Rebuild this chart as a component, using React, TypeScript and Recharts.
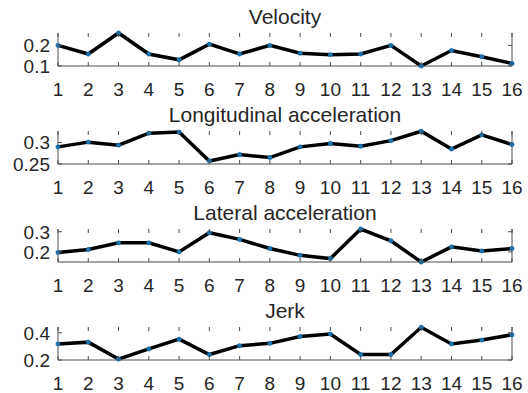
import React from 'react';
import { LineChart, Line, XAxis, YAxis } from 'recharts';

const steps = [1, 2, 3, 4, 5, 6, 7, 8, 9, 10, 11, 12, 13, 14, 15, 16];
const velocity = [0.2, 0.158, 0.26, 0.158, 0.13, 0.206, 0.158, 0.2, 0.162, 0.155, 0.158, 0.2, 0.1, 0.175, 0.145, 0.112];
const longitudinal = [0.29, 0.301, 0.294, 0.322, 0.3245, 0.257, 0.272, 0.265, 0.29, 0.298, 0.2915, 0.3045, 0.3265, 0.285, 0.318, 0.2955];
const lateral = [0.197, 0.212, 0.245, 0.245, 0.2, 0.295, 0.262, 0.217, 0.183, 0.167, 0.3135, 0.255, 0.15, 0.225, 0.205, 0.217];
const jerk = [0.318, 0.331, 0.207, 0.281, 0.353, 0.24, 0.305, 0.322, 0.372, 0.39, 0.24, 0.24, 0.44, 0.318, 0.346, 0.385];

const titles = ['Velocity', 'Longitudinal acceleration', 'Lateral acceleration', 'Jerk'];
const yTicks = [[0.1, 0.2], [0.25, 0.3], [0.2, 0.3], [0.2, 0.4]];
const yDomains = [[0.1, 0.26], [0.25, 0.327], [0.15, 0.3135], [0.2, 0.442]];
const series = [velocity, longitudinal, lateral, jerk];

const W = 528;
const H = 98;
const PLOT_TOP = 33;
const PLOT_H = 33;
const PLOT_LEFT = 58;
const PLOT_RIGHT = 512;
const PLOT_W = PLOT_RIGHT - PLOT_LEFT;
const AXIS_COLOR = '#4d4d4d';
const TEXT_COLOR = '#262626';
const FONT = '"Liberation Sans", Arial, sans-serif';

const XTick = (props: any) => {
  const { x, y, payload } = props;
  return (
    <g>
      <line x1={x} x2={x} y1={y} y2={y - 4} stroke={AXIS_COLOR} strokeWidth={1} />
      <line x1={x} x2={x} y1={y - PLOT_H} y2={y - PLOT_H + 4} stroke={AXIS_COLOR} strokeWidth={1} />
      <text x={x} y={y + 29.5} textAnchor="middle" fontSize={19} fontFamily={FONT} fill={TEXT_COLOR}>
        {payload.value}
      </text>
    </g>
  );
};

const YTick = (props: any) => {
  const { x, y, payload } = props;
  return (
    <g>
      <line x1={x} x2={x + 4} y1={y} y2={y} stroke={AXIS_COLOR} strokeWidth={1} />
      <line x1={x + PLOT_W} x2={x + PLOT_W - 4} y1={y} y2={y} stroke={AXIS_COLOR} strokeWidth={1} />
      <text x={x - 8} y={y + 6.8} textAnchor="end" fontSize={19} fontFamily={FONT} fill={TEXT_COLOR}>
        {payload.value}
      </text>
    </g>
  );
};

const Panel = ({ idx }: { idx: number }) => {
  const data = steps.map((s, i) => ({ step: s, v: series[idx][i] }));
  return (
    <div style={{ position: 'relative', width: W, height: H }}>
      <LineChart
        width={W}
        height={H}
        data={data}
        margin={{ top: PLOT_TOP, bottom: 2, left: 8, right: W - PLOT_RIGHT - 1 }}
      >
        <XAxis
          dataKey="step"
          type="number"
          domain={[1, 16]}
          ticks={steps}
          interval={0}
          height={30}
          tickSize={0}
          tickMargin={0}
          tickLine={false}
          axisLine={{ stroke: AXIS_COLOR }}
          tick={<XTick />}
        />
        <XAxis
          xAxisId="top"
          dataKey="step"
          type="number"
          domain={[1, 16]}
          orientation="top"
          height={0}
          tick={false}
          tickLine={false}
          axisLine={{ stroke: AXIS_COLOR }}
        />
        <YAxis
          type="number"
          domain={yDomains[idx]}
          ticks={yTicks[idx]}
          interval={0}
          width={50}
          tickSize={0}
          tickMargin={0}
          tickLine={false}
          axisLine={{ stroke: AXIS_COLOR }}
          tick={<YTick />}
        />
        <YAxis
          yAxisId="right"
          orientation="right"
          type="number"
          domain={yDomains[idx]}
          width={1}
          tick={false}
          tickLine={false}
          axisLine={{ stroke: AXIS_COLOR }}
        />
        <Line
          dataKey="v"
          stroke="#000000"
          strokeWidth={3.5}
          isAnimationActive={false}
          dot={{ r: 2.2, fill: '#1f6fa8', stroke: '#1f6fa8', strokeWidth: 0.5 }}
        />
      </LineChart>
      <svg width={W} height={H} style={{ position: 'absolute', left: 0, top: 0, pointerEvents: 'none' }}>
        <text
          x={(PLOT_LEFT + PLOT_RIGHT) / 2}
          y={PLOT_TOP - 9}
          textAnchor="middle"
          fontSize={21}
          fontFamily={FONT}
          fill={TEXT_COLOR}
        >
          {titles[idx]}
        </text>
      </svg>
    </div>
  );
};

export default function App() {
  return (
    <div style={{ position: 'absolute', left: 0, top: 0, width: W, height: 393, background: '#ffffff' }}>
      {[0, 1, 2, 3].map((i) => (
        <Panel key={i} idx={i} />
      ))}
    </div>
  );
}
